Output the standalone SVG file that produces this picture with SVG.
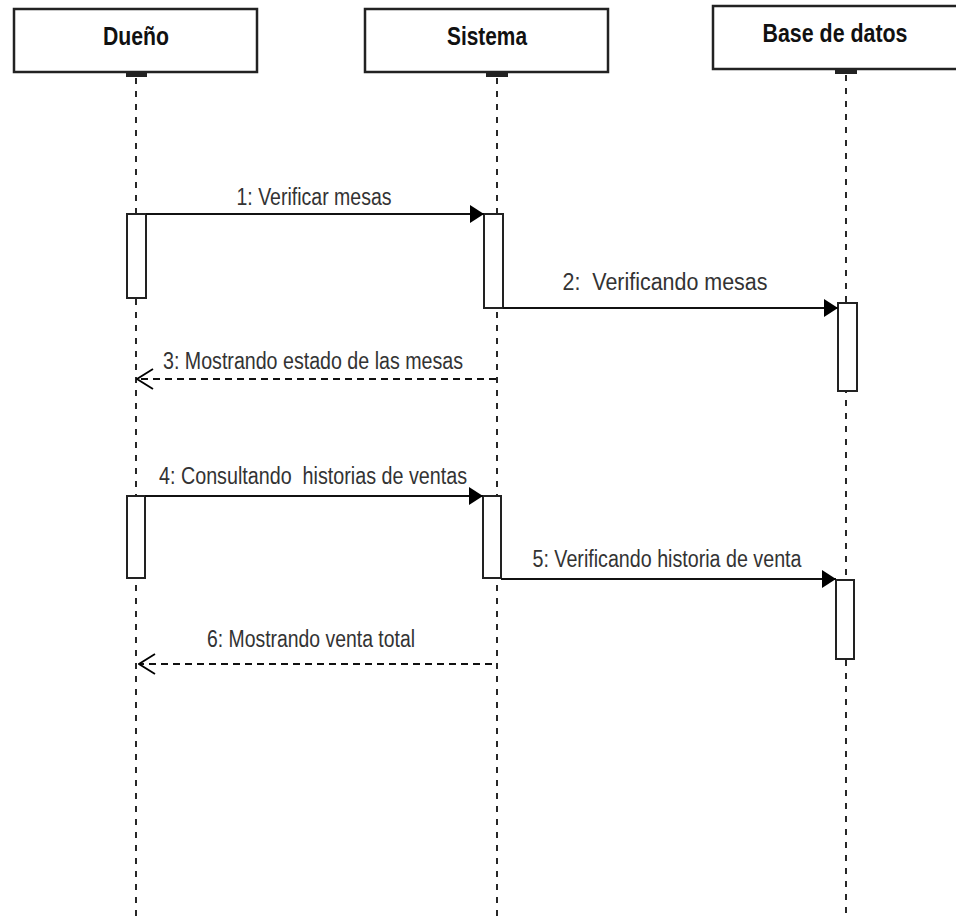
<svg xmlns="http://www.w3.org/2000/svg" width="956" height="916" viewBox="0 0 956 916">
  <defs>
    <marker id="solidHead" markerWidth="14" markerHeight="18" refX="14" refY="9" orient="auto" markerUnits="userSpaceOnUse">
      <path d="M0,0 L14,9 L0,18 Z" fill="#000"/>
    </marker>
    <marker id="openHead" markerWidth="18" markerHeight="24" refX="17" refY="12" orient="auto" markerUnits="userSpaceOnUse">
      <path d="M1,2 L17,12 L1,22" fill="none" stroke="#000" stroke-width="1.8"/>
    </marker>
  </defs>
  <style>
    .box { fill: #fff; stroke: #222; stroke-width: 2.5; }
    .head { font-family: "Liberation Sans", Arial, sans-serif; font-weight: bold; font-size: 25px; fill: #111; }
    .lifeline { stroke: #111; stroke-width: 1.8; stroke-dasharray: 6 7; fill: none; }
    .stub { fill: #222; }
    .act { fill: #fff; stroke: #222; stroke-width: 2; }
    .msg { stroke: #111; stroke-width: 2; fill: none; }
    .ret { stroke: #111; stroke-width: 1.8; stroke-dasharray: 7 5; fill: none; }
    .lbl { font-family: "Liberation Sans", Arial, sans-serif; font-size: 23px; fill: #333; }
  </style>
  <rect width="956" height="916" fill="#fff"/>

  <!-- lifelines -->
  <g id="lifelines">
    <line class="lifeline" x1="136" y1="78" x2="136" y2="916"/>
    <line class="lifeline" x1="497" y1="78" x2="497" y2="916"/>
    <line class="lifeline" x1="846" y1="75" x2="846" y2="916"/>
  </g>

  <g id="duenio">
    <rect class="box" x="14" y="9" width="243" height="63"/>
    <text class="head" x="136" y="45" text-anchor="middle" textLength="66" lengthAdjust="spacingAndGlyphs">Dueño</text>
    <rect class="stub" x="126" y="72" width="21" height="5"/>
    <rect class="act" x="127" y="214" width="19" height="84"/>
    <rect class="act" x="127" y="496" width="18" height="82"/>
  </g>

  <g id="sistema">
    <rect class="box" x="365" y="9" width="243" height="63"/>
    <text class="head" x="487" y="45" text-anchor="middle" textLength="80" lengthAdjust="spacingAndGlyphs">Sistema</text>
    <rect class="stub" x="486" y="72" width="22" height="5"/>
    <rect class="act" x="484" y="214" width="19" height="94"/>
    <rect class="act" x="483" y="496" width="18" height="82"/>
  </g>

  <g id="base-de-datos">
    <rect class="box" x="713" y="6" width="245" height="63"/>
    <text class="head" x="835" y="42" text-anchor="middle" textLength="145" lengthAdjust="spacingAndGlyphs">Base de datos</text>
    <rect class="stub" x="835" y="69" width="22" height="5"/>
    <rect class="act" x="838" y="303" width="19" height="88"/>
    <rect class="act" x="836" y="580" width="18" height="79"/>
  </g>

  <!-- messages -->
  <g id="connectors">
    <line class="msg" x1="146" y1="214" x2="484" y2="214" marker-end="url(#solidHead)"/>
    <text class="lbl" x="314" y="205" text-anchor="middle" textLength="155" lengthAdjust="spacingAndGlyphs">1: Verificar mesas</text>

    <line class="msg" x1="503" y1="308" x2="838" y2="308" marker-end="url(#solidHead)"/>
    <text class="lbl" x="665" y="290" text-anchor="middle" textLength="205" lengthAdjust="spacingAndGlyphs" xml:space="preserve">2:  Verificando mesas</text>

    <line class="ret" x1="496" y1="379" x2="137" y2="379" marker-end="url(#openHead)"/>
    <text class="lbl" x="313" y="369" text-anchor="middle" textLength="300" lengthAdjust="spacingAndGlyphs">3: Mostrando estado de las mesas</text>

    <line class="msg" x1="145" y1="496" x2="483" y2="496" marker-end="url(#solidHead)"/>
    <text class="lbl" x="313" y="484" text-anchor="middle" textLength="308" lengthAdjust="spacingAndGlyphs" xml:space="preserve">4: Consultando  historias de ventas</text>

    <line class="msg" x1="501" y1="579" x2="836" y2="579" marker-end="url(#solidHead)"/>
    <text class="lbl" x="667" y="567" text-anchor="middle" textLength="269" lengthAdjust="spacingAndGlyphs">5: Verificando historia de venta</text>

    <line class="ret" x1="492" y1="664" x2="139" y2="664" marker-end="url(#openHead)"/>
    <text class="lbl" x="311" y="647" text-anchor="middle" textLength="208" lengthAdjust="spacingAndGlyphs">6: Mostrando venta total</text>
  </g>
</svg>
